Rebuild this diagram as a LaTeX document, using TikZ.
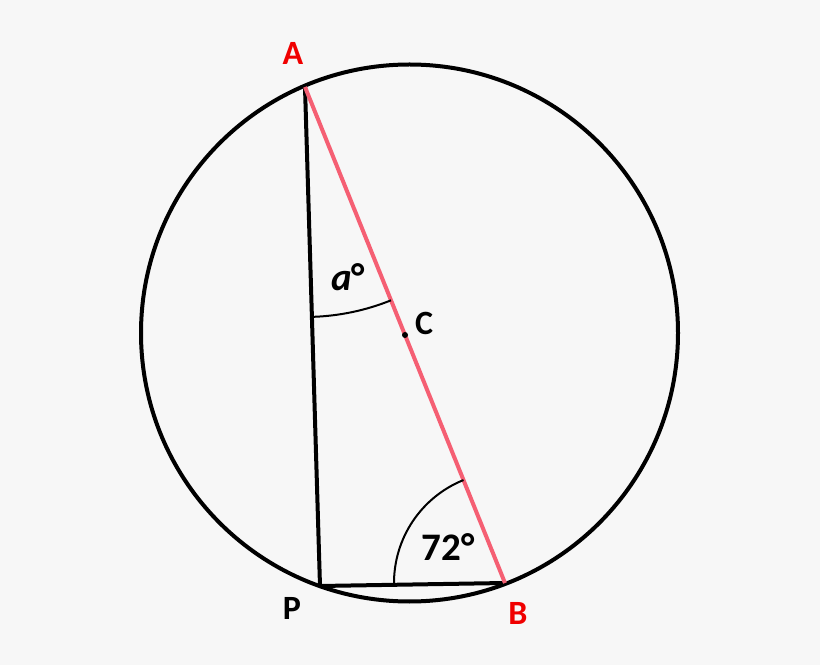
\documentclass[tikz,border=0pt]{standalone}
\usepackage{fontspec}
\setmainfont{Carlito}
\usetikzlibrary{angles,calc}
\definecolor{chordred}{RGB}{245,95,115}
\definecolor{lblred}{RGB}{240,0,0}
\definecolor{bggray}{RGB}{247,247,247}

\begin{document}
\begin{tikzpicture}[x=1pt,y=1pt,
    ptlabel/.style={inner sep=0pt,font=\fontsize{34}{34}\selectfont\bfseries},
    anglabel/.style={inner sep=0pt,font=\fontsize{39}{39}\selectfont\bfseries},
    thickline/.style={line width=4pt,line join=round}]
\fill[bggray] (0,0) rectangle (820,665);
\coordinate (O) at (409.5,332);
\coordinate (A) at (305,578);
\coordinate (B) at (505,82);
\coordinate (P) at (320,79);
\coordinate (C) at ($(A)!0.5!(B)$);
% circle and triangle
\draw[thickline] (O) circle (268.5);
\draw[thickline] (A) -- (P) -- (B);
\draw[thickline,chordred] (A) -- (B);
% angle marks
\pic[draw,line width=2pt,angle radius=230pt] {angle=P--A--B};
\pic[draw,line width=2pt,angle radius=111pt] {angle=A--B--P};
\fill (C) circle (3);
% labels
\node (lA) [ptlabel,lblred] at (293,612) {A};
\node (lB) [ptlabel,lblred] at (518,52) {B};
\node (lP) [ptlabel] at (292,57) {P};
\node (lC) [ptlabel] at (424,342) {C};
\node (la) [anglabel] at (348,388) {\textit{a}°};
\node (l72) [anglabel] at (448,118) {72°};
\end{tikzpicture}
\end{document}
